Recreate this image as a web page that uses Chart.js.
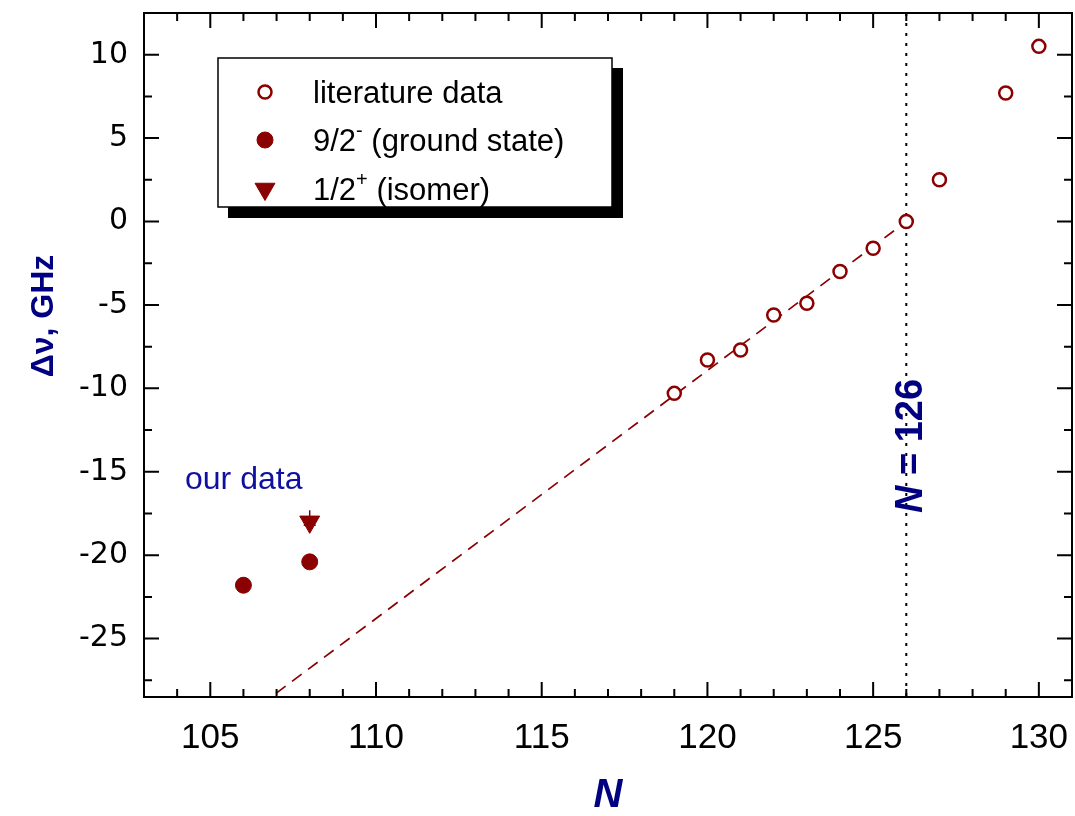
<!DOCTYPE html>
<html>
<head>
<meta charset="utf-8">
<script src="https://cdn.jsdelivr.net/npm/chart.js@4"></script>
<style>
  body { margin: 0; background: #fff; overflow: hidden; }
  #wrap { width: 1075px; height: 816px; position: relative; }
  canvas { display: block; }
</style>
</head>
<body>
<div id="wrap"><canvas id="chart"></canvas></div>
<script>
// literature data (open circles)
const litN = [119, 120, 121, 122, 123, 124, 125, 126, 127, 129, 130];
const litShift = [-10.3, -8.3, -7.7, -5.6, -4.9, -3.0, -1.6, 0.0, 2.5, 7.7, 10.5];
// our data: 9/2- ground state
const gsN = [106, 108];
const gsShift = [-21.8, -20.4];
// our data: 1/2+ isomer
const isoN = [108];
const isoShift = [-18.0];
const isoErrUp = [0.7];
const isoErrDown = [0.2];
// dashed trend line end points
const fitN = [106.5, 125.8];
const fitShift = [-29.0, -0.3];

const xTicks = [105, 110, 115, 120, 125, 130];
const yTicks = [-25, -20, -15, -10, -5, 0, 5, 10];
const magicN = 126;

const RED = '#8b0000';
const NAVY = '#000080';

const toXY = (xs, ys) => xs.map((x, i) => ({ x: x, y: ys[i] }));

// frame, inward ticks, annotations, legend
const decorPlugin = {
    id: 'decor',
    beforeDatasetsDraw(chart) {
        const { ctx, chartArea: a, scales: { x } } = chart;
        // dotted line at N = 126
        const px = x.getPixelForValue(magicN);
        ctx.save();
        ctx.strokeStyle = '#000';
        ctx.lineWidth = 2;
        ctx.setLineDash([3, 7]);
        ctx.beginPath();
        ctx.moveTo(px, a.top);
        ctx.lineTo(px, a.bottom);
        ctx.stroke();
        ctx.restore();
    },
    afterDatasetsDraw(chart) {
        const { ctx, chartArea: a, scales: { x, y } } = chart;
        ctx.save();

        // error bar of the isomer point
        ctx.strokeStyle = RED;
        ctx.lineWidth = 1.5;
        isoN.forEach((n, i) => {
            const px = x.getPixelForValue(n);
            const top = y.getPixelForValue(isoShift[i] + isoErrUp[i]);
            const bot = y.getPixelForValue(isoShift[i] - isoErrDown[i]);
            ctx.beginPath();
            ctx.moveTo(px, top); ctx.lineTo(px, bot);
            ctx.moveTo(px - 6, bot); ctx.lineTo(px + 6, bot);
            ctx.stroke();
        });

        // frame
        ctx.strokeStyle = '#000';
        ctx.lineWidth = 2;
        ctx.strokeRect(a.left, a.top, a.right - a.left, a.bottom - a.top);

        // ticks (inside, all four sides)
        ctx.beginPath();
        for (let v = 103; v <= 131; v++) {
            const px = x.getPixelForValue(v);
            const len = v % 5 === 0 ? 15 : 8;
            ctx.moveTo(px, a.bottom); ctx.lineTo(px, a.bottom - len);
            ctx.moveTo(px, a.top); ctx.lineTo(px, a.top + len);
        }
        for (let v = -27.5; v <= 12.5; v += 2.5) {
            const py = y.getPixelForValue(v);
            const len = v % 5 === 0 ? 15 : 8;
            ctx.moveTo(a.left, py); ctx.lineTo(a.left + len, py);
            ctx.moveTo(a.right, py); ctx.lineTo(a.right - len, py);
        }
        ctx.stroke();

        // "N = 126" vertical label
        const px = x.getPixelForValue(magicN);
        ctx.save();
        ctx.translate(px + 16, 446);
        ctx.rotate(-Math.PI / 2);
        ctx.fillStyle = NAVY;
        ctx.textBaseline = 'alphabetic';
        const fN = 'italic bold 38px "Liberation Sans", Arial, sans-serif';
        const fR = 'bold 38px "Liberation Sans", Arial, sans-serif';
        ctx.font = fN; const wN = ctx.measureText('N').width;
        ctx.font = fR; const wR = ctx.measureText(' = 126').width;
        const sx = -(wN + wR) / 2;
        ctx.font = fN; ctx.fillText('N', sx, 0);
        ctx.font = fR; ctx.fillText(' = 126', sx + wN, 0);
        ctx.restore();

        // y axis title
        ctx.save();
        ctx.translate(53, 316);
        ctx.rotate(-Math.PI / 2);
        ctx.fillStyle = NAVY;
        ctx.font = 'bold 32px "Liberation Sans", Arial, sans-serif';
        ctx.textAlign = 'center';
        ctx.fillText('\u0394\u03bd, GHz', 0, 0);
        ctx.restore();

        // "our data"
        ctx.fillStyle = '#1010a0';
        ctx.font = '32px "Liberation Sans", Arial, sans-serif';
        ctx.textAlign = 'left';
        ctx.fillText('our data', 185, 489);

        // legend box with shadow
        ctx.fillStyle = '#000';
        ctx.fillRect(228, 68, 395, 150);
        ctx.fillStyle = '#fff';
        ctx.fillRect(218, 58, 394, 149);
        ctx.strokeStyle = '#000';
        ctx.lineWidth = 1.5;
        ctx.strokeRect(218, 58, 394, 149);

        const ds = chart.data.datasets;
        const rows = [
            { d: ds[0], y: 92, parts: [['literature data', 0]] },
            { d: ds[1], y: 140, parts: [['9/2', 0], ['-', 1], [' (ground state)', 0]] },
            { d: ds[2], y: 189, parts: [['1/2', 0], ['+', 1], [' (isomer)', 0]] }
        ];
        rows.forEach(r => {
            ctx.fillStyle = r.d.backgroundColor;
            ctx.strokeStyle = r.d.borderColor;
            ctx.lineWidth = r.d.borderWidth;
            Chart.helpers.drawPoint(ctx, {
                pointStyle: r.d.pointStyle,
                radius: r.d.pointRadius,
                rotation: r.d.rotation || 0,
                borderWidth: r.d.borderWidth
            }, 265, r.y);
            let tx = 313;
            ctx.fillStyle = '#000';
            r.parts.forEach(([t, sup]) => {
                ctx.font = sup ? '20px "Liberation Sans", Arial, sans-serif'
                               : '31px "Liberation Sans", Arial, sans-serif';
                ctx.fillText(t, tx, r.y + (sup ? -3 : 11));
                tx += ctx.measureText(t).width;
            });
        });

        ctx.restore();
    }
};

new Chart(document.getElementById('chart'), {
    type: 'scatter',
    data: {
        datasets: [
            {
                label: 'literature data',
                data: toXY(litN, litShift),
                pointStyle: 'circle',
                pointRadius: 6.5,
                backgroundColor: '#fff',
                borderColor: RED,
                borderWidth: 2.5,
                order: 1
            },
            {
                label: '9/2- (ground state)',
                data: toXY(gsN, gsShift),
                pointStyle: 'circle',
                pointRadius: 8,
                backgroundColor: RED,
                borderColor: RED,
                borderWidth: 1,
                order: 1
            },
            {
                label: '1/2+ (isomer)',
                data: toXY(isoN, isoShift),
                pointStyle: 'triangle',
                rotation: 180,
                pointRadius: 11.5,
                backgroundColor: RED,
                borderColor: RED,
                borderWidth: 1,
                order: 1
            },
            {
                label: 'trend',
                data: toXY(fitN, fitShift),
                showLine: true,
                pointRadius: 0,
                borderColor: RED,
                borderWidth: 1.7,
                borderDash: [12, 8],
                order: 2
            }
        ]
    },
    options: {
        responsive: true,
        maintainAspectRatio: false,
        animation: false,
        layout: { autoPadding: false, padding: { top: 13, right: 3, left: 0, bottom: 0 } },
        plugins: {
            legend: { display: false },
            tooltip: { enabled: false }
        },
        scales: {
            x: {
                type: 'linear',
                min: 103,
                max: 131,
                grid: { display: false },
                border: { display: false },
                afterBuildTicks: s => { s.ticks = xTicks.map(v => ({ value: v })); },
                afterFit: s => { s.height = 119; s.paddingLeft = 0; s.paddingRight = 0; },
                ticks: {
                    color: '#000',
                    padding: 12,
                    maxRotation: 0,
                    font: { family: '"Liberation Sans", Arial, sans-serif', size: 35 }
                },
                title: {
                    display: true,
                    text: 'N',
                    color: NAVY,
                    padding: { top: 0, bottom: 0 },
                    font: { family: '"Liberation Sans", Arial, sans-serif', size: 40, weight: 'bold', style: 'italic', lineHeight: 1 }
                }
            },
            y: {
                type: 'linear',
                min: -28.5,
                max: 12.5,
                grid: { display: false },
                border: { display: false },
                afterBuildTicks: s => { s.ticks = yTicks.map(v => ({ value: v })); },
                afterFit: s => { s.width = 144; s.paddingTop = 0; s.paddingBottom = 0; },
                ticks: {
                    color: '#000',
                    padding: 8,
                    font: { family: '"DejaVu Sans", sans-serif', size: 30 }
                }
            }
        }
    },
    plugins: [decorPlugin]
});
</script>
</body>
</html>
